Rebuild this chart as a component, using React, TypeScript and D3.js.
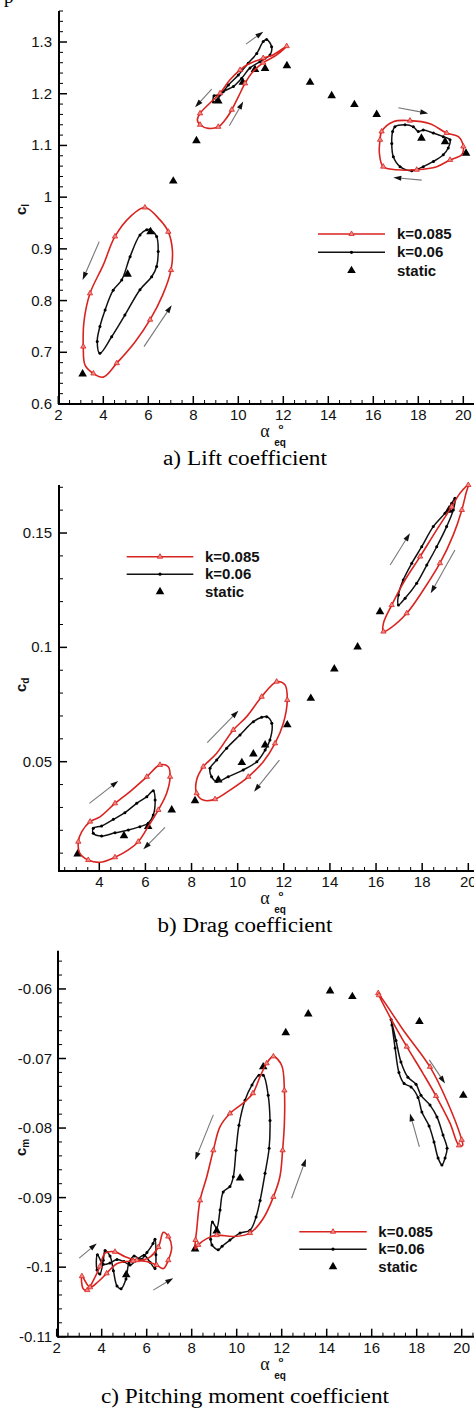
import React from 'react';
import * as d3 from 'd3';

type P = [number, number];
type A = [number, number, number, number];

// ---------------- a) Lift coefficient ----------------
const liftStatic: P[] = [[3.08,0.658],[5.08,0.851],[6.1,0.933],[7.11,1.031],[8.14,1.109],[9.11,1.186],[10.2,1.222],[10.74,1.247],[11.19,1.249],[12.16,1.254],[13.19,1.222],[14.15,1.196],[15.16,1.179],[16.15,1.160],[18.14,1.114],[19.19,1.107],[20.12,1.085]];
const liftK085Low: P[] = [[5.85,0.980],[6.52,0.956],[6.89,0.933],[7.07,0.898],[7.01,0.859],[6.64,0.811],[6.08,0.763],[5.41,0.720],[4.60,0.679],[4.0,0.652],[3.56,0.659],[3.19,0.675],[3.11,0.711],[3.14,0.759],[3.41,0.814],[4.0,0.869],[4.52,0.924],[5.19,0.962]];
const liftK06Low: P[] = [[6.08,0.937],[6.37,0.924],[6.44,0.895],[6.37,0.866],[6.15,0.846],[5.63,0.821],[4.96,0.772],[4.37,0.730],[3.85,0.698],[3.73,0.721],[3.85,0.750],[4.08,0.782],[4.44,0.820],[4.82,0.840],[5.19,0.885],[5.63,0.927],[5.93,0.937]];
const liftK085Mid: P[] = [[12.15,1.292],[11.54,1.275],[11.11,1.269],[10.39,1.256],[10.08,1.246],[9.63,1.227],[9.19,1.201],[8.74,1.182],[8.30,1.162],[8.18,1.149],[8.30,1.140],[8.67,1.133],[9.11,1.136],[9.41,1.149],[9.71,1.169],[10.0,1.194],[10.3,1.220],[10.6,1.240],[11.11,1.260],[11.71,1.275]];
const liftK06Mid: P[] = [[11.26,1.305],[11.48,1.291],[11.41,1.275],[10.96,1.262],[10.52,1.250],[10.15,1.230],[9.78,1.214],[9.33,1.204],[9.04,1.188],[8.89,1.184],[8.92,1.196],[9.19,1.198],[9.56,1.217],[10.0,1.236],[10.44,1.259],[10.82,1.278],[11.11,1.301]];
const liftK085High: P[] = [[16.37,1.127],[16.89,1.146],[17.63,1.148],[18.52,1.142],[19.26,1.124],[19.78,1.117],[20.0,1.098],[19.93,1.082],[19.41,1.072],[18.82,1.059],[17.93,1.053],[17.04,1.053],[16.44,1.059],[16.27,1.085],[16.30,1.111]];
const liftK06High: P[] = [[16.96,1.136],[17.41,1.140],[17.78,1.136],[18.0,1.127],[18.22,1.130],[18.67,1.124],[19.11,1.117],[19.41,1.111],[19.33,1.095],[19.11,1.082],[18.67,1.069],[18.22,1.059],[17.71,1.051],[17.19,1.059],[16.89,1.078],[16.82,1.104],[16.86,1.127]];
const liftArrows: A[] = [[3.82,0.914,3.08,0.840],[5.81,0.711,7.04,0.791],[10.34,1.296,11.11,1.320],[8.82,1.209,8.08,1.174],[9.6,1.138,10.22,1.185],[17.11,1.173,18.44,1.162],[18.15,1.033,16.89,1.038]];
const liftYTicks = [0.6,0.7,0.8,0.9,1,1.1,1.2,1.3];
const liftXTicks = [2,4,6,8,10,12,14,16,18,20];

// ---------------- b) Drag coefficient ----------------
const dragStatic: P[] = [[3.06,0.0096],[5.07,0.0176],[6.12,0.0216],[7.14,0.0289],[8.15,0.0329],[9.16,0.042],[10.18,0.0496],[10.68,0.0534],[11.19,0.0573],[12.15,0.0661],[13.17,0.0777],[14.19,0.0905],[15.2,0.1002],[16.17,0.1156],[19.16,0.160]];
const dragK085Low: P[] = [[6.63,0.0486],[6.99,0.0478],[7.07,0.0434],[6.92,0.0362],[6.56,0.0289],[6.12,0.0216],[5.69,0.0150],[5.26,0.0114],[4.68,0.0082],[4.03,0.0060],[3.52,0.0070],[3.16,0.0099],[3.09,0.0150],[3.24,0.0194],[3.60,0.0238],[4.03,0.0259],[4.68,0.0318],[5.41,0.0376],[6.06,0.0434]];
const dragK06Low: P[] = [[6.34,0.0373],[6.42,0.0332],[6.34,0.0267],[6.12,0.0231],[5.76,0.0216],[5.26,0.0201],[4.68,0.0189],[4.10,0.0175],[3.74,0.0187],[3.74,0.0209],[4.10,0.0219],[4.61,0.0248],[5.11,0.0277],[5.62,0.0318],[6.06,0.0347]];
const dragK085Mid: P[] = [[11.69,0.0850],[12.05,0.0836],[12.15,0.0770],[11.98,0.0668],[11.62,0.0580],[11.11,0.0500],[10.46,0.0434],[9.67,0.0376],[9.02,0.0336],[8.51,0.0332],[8.22,0.0362],[8.22,0.0420],[8.51,0.0478],[9.09,0.0537],[9.81,0.0639],[10.39,0.0697],[11.04,0.0784]];
const dragK06Mid: P[] = [[11.26,0.0697],[11.48,0.0668],[11.40,0.0595],[11.19,0.0551],[10.83,0.0500],[10.24,0.0464],[9.59,0.0434],[9.09,0.0413],[8.87,0.0434],[8.80,0.0471],[9.09,0.0507],[9.52,0.0559],[10.10,0.0617],[10.68,0.0675],[11.04,0.0694]];
const dragK085High: P[] = [[20.0,0.1710],[19.90,0.1674],[19.72,0.1601],[19.35,0.1492],[18.77,0.1368],[18.05,0.1251],[17.33,0.1149],[16.61,0.1083],[16.32,0.1069],[16.32,0.1105],[16.68,0.1185],[17.26,0.1295],[17.91,0.1397],[18.63,0.1514],[19.28,0.1615],[19.64,0.1674]];
const dragK06High: P[] = [[19.42,0.1652],[19.35,0.1601],[19.06,0.1528],[18.63,0.1440],[18.20,0.1360],[17.76,0.1280],[17.26,0.1215],[16.97,0.1185],[16.97,0.1229],[17.18,0.1295],[17.55,0.1368],[17.98,0.1440],[18.48,0.1528],[18.99,0.1587],[19.28,0.1630]];
const dragArrows: A[] = [[3.57,0.0318,4.82,0.0416],[6.85,0.0213,5.91,0.0117],[8.68,0.0583,10.03,0.0723],[11.81,0.0507,10.71,0.0369],[16.61,0.1360,17.47,0.1499],[19.42,0.1426,18.37,0.1237]];
const dragYTicks = [0.05,0.1,0.15];
const dragXTicks = [4,6,8,10,12,14,16,18,20];

// ---------------- c) Pitching moment coefficient ----------------
const momentStatic: P[] = [[5.09,-0.1011],[8.15,-0.0974],[9.11,-0.0948],[10.15,-0.0872],[11.18,-0.0712],[12.18,-0.0663],[13.18,-0.0636],[14.15,-0.0603],[15.14,-0.0611],[18.12,-0.0647],[20.07,-0.0753]];
const momentK085Low: P[] = [[3.12,-0.1013],[3.18,-0.1031],[3.36,-0.1033],[3.63,-0.1019],[3.92,-0.0999],[4.15,-0.0980],[4.59,-0.0978],[5.04,-0.0985],[5.56,-0.0990],[6.07,-0.0987],[6.52,-0.0971],[6.74,-0.0950],[6.96,-0.0956],[7.11,-0.0971],[6.96,-0.0990],[6.74,-0.1002],[6.44,-0.0997],[6.0,-0.0992],[5.40,-0.0991],[4.67,-0.0995],[4.22,-0.1009],[3.84,-0.1021],[3.48,-0.1029]];
const momentK06Low: P[] = [[3.81,-0.0982],[3.79,-0.1004],[3.92,-0.1010],[4.07,-0.0990],[4.15,-0.0976],[4.37,-0.0984],[4.52,-0.1005],[4.68,-0.1027],[4.86,-0.1031],[5.08,-0.1017],[5.21,-0.0994],[5.44,-0.0984],[5.75,-0.0989],[6.01,-0.0979],[6.28,-0.0966],[6.37,-0.0960],[6.41,-0.0982],[6.37,-0.1002],[6.15,-0.0993],[5.88,-0.0983],[5.57,-0.0989],[5.26,-0.0997],[4.99,-0.0992],[4.68,-0.0989],[4.37,-0.0994],[4.07,-0.0996]];
const momentK085Mid: P[] = [[11.63,-0.0697],[12.0,-0.0710],[12.12,-0.0746],[12.12,-0.0793],[12.04,-0.0832],[11.92,-0.0870],[11.63,-0.0899],[11.18,-0.0930],[10.59,-0.0951],[9.85,-0.0956],[9.11,-0.0954],[8.67,-0.0959],[8.29,-0.0968],[8.15,-0.0974],[8.17,-0.0961],[8.22,-0.0947],[8.37,-0.0904],[8.67,-0.0870],[8.96,-0.0832],[9.26,-0.0798],[9.70,-0.0779],[10.37,-0.0762],[10.72,-0.0750],[11.04,-0.0726],[11.33,-0.0707]];
const momentK06Mid: P[] = [[11.18,-0.0724],[11.40,-0.0753],[11.48,-0.0789],[11.44,-0.0829],[11.26,-0.0865],[11.04,-0.0904],[10.86,-0.0928],[10.59,-0.0947],[10.15,-0.0951],[9.70,-0.0961],[9.35,-0.0970],[9.18,-0.0975],[8.90,-0.0968],[8.84,-0.0960],[8.92,-0.0935],[9.11,-0.0944],[9.26,-0.0918],[9.40,-0.0892],[9.70,-0.0884],[9.85,-0.0870],[9.97,-0.0832],[10.10,-0.0796],[10.37,-0.0760],[10.68,-0.0738],[10.99,-0.0724]];
const momentK085High: P[] = [[16.29,-0.0606],[17.40,-0.0659],[18.59,-0.0712],[19.33,-0.0760],[20.0,-0.0817],[20.04,-0.0825],[19.88,-0.0825],[19.48,-0.0793],[18.86,-0.0754],[18.29,-0.0722],[17.56,-0.0683],[16.81,-0.0640],[16.32,-0.0609]];
const momentK06High: P[] = [[16.86,-0.0644],[17.08,-0.0674],[17.30,-0.0705],[17.61,-0.0727],[17.97,-0.0737],[18.19,-0.0753],[18.59,-0.0767],[18.90,-0.0784],[19.17,-0.0810],[19.35,-0.0829],[19.26,-0.0843],[19.12,-0.0853],[18.95,-0.0843],[18.77,-0.0820],[18.55,-0.0797],[18.23,-0.0777],[18.06,-0.0756],[17.75,-0.0741],[17.44,-0.0736],[17.21,-0.0720],[17.04,-0.0685],[16.90,-0.0652]];
const momentArrows: A[] = [[18.56,-0.0702,19.26,-0.0736],[18.12,-0.0827,17.70,-0.0779],[8.96,-0.0781,8.15,-0.0846],[12.44,-0.0901,13.08,-0.0844],[3.0,-0.0987,3.78,-0.0966],[6.29,-0.1033,7.18,-0.1016]];
const momentYTicks = [-0.11,-0.1,-0.09,-0.08,-0.07,-0.06];
const momentXTicks = [2,4,6,8,10,12,14,16,18,20];

const legendLabels = ['k=0.085', 'k=0.06', 'static'];

const RED = '#d9231f';
const SANS = 'Liberation Sans, Arial, sans-serif';
const SERIF = 'Liberation Serif, Times New Roman, serif';

type Cfg = {
  xDom: [number, number]; xRng: [number, number];
  yDom: [number, number]; yRng: [number, number];
  yAxisX: number; xTicks: number[]; yTicks: number[]; yMinor: number;
  red: P[][]; black: P[][]; stat: P[]; arrows: A[];
  legend: { x0: number; x1: number; tx: number; y: number; dy: number };
  sub: string; ylab: [number, number]; caption: string; capY: number; capW: number;
};

const panels: Cfg[] = [
  {
    xDom: [2, 20], xRng: [58.3, 463.3], yDom: [0.6, 1.36], yRng: [404, 11], yAxisX: 59,
    xTicks: liftXTicks, yTicks: liftYTicks, yMinor: 0.02,
    red: [liftK085Low, liftK085Mid, liftK085High], black: [liftK06Low, liftK06Mid, liftK06High],
    stat: liftStatic, arrows: liftArrows,
    legend: { x0: 318, x1: 385, tx: 397, y: 234, dy: 18.3 },
    sub: 'l', ylab: [26, 215], caption: 'a) Lift coefficient', capY: 465, capW: 164,
  },
  {
    xDom: [4, 20], xRng: [99.3, 468.3], yDom: [0.0022, 0.171], yRng: [871, 485], yAxisX: 59,
    xTicks: dragXTicks, yTicks: dragYTicks, yMinor: 0.01,
    red: [dragK085Low, dragK085Mid, dragK085High], black: [dragK06Low, dragK06Mid, dragK06High],
    stat: dragStatic, arrows: dragArrows,
    legend: { x0: 126.7, x1: 193.3, tx: 205, y: 556.7, dy: 17.5 },
    sub: 'd', ylab: [26, 692], caption: 'b) Drag coefficient', capY: 932, capW: 175,
  },
  {
    xDom: [2, 20], xRng: [56.7, 461.7], yDom: [-0.11, -0.0545], yRng: [1336.7, 950.7], yAxisX: 58,
    xTicks: momentXTicks, yTicks: momentYTicks, yMinor: 0.002,
    red: [momentK085Low, momentK085Mid, momentK085High], black: [momentK06Low, momentK06Mid, momentK06High],
    stat: momentStatic, arrows: momentArrows,
    legend: { x0: 299.3, x1: 366.7, tx: 378.3, y: 1231.7, dy: 17.5 },
    sub: 'm', ylab: [26, 1156], caption: 'c) Pitching moment coefficient', capY: 1403, capW: 288,
  },
];

const triSmall = d3.symbol().type(d3.symbolTriangle).size(12)()!;
const triBig = d3.symbol().type(d3.symbolTriangle).size(32)()!;

function Panel({ c }: { c: Cfg }) {
  const xs = d3.scaleLinear().domain(c.xDom).range(c.xRng);
  const ys = d3.scaleLinear().domain(c.yDom).range(c.yRng);
  const axisY = c.yRng[0];
  const line = d3.line<P>().x(d => xs(d[0])).y(d => ys(d[1])).curve(d3.curveCatmullRomClosed.alpha(0.5));
  const xStart = xs.invert(c.yAxisX);
  const xEnd = xs.invert(474);
  const xMinor = d3.range(Math.ceil(xStart * 2) / 2, xEnd, 0.5).filter(v => Math.abs(v - Math.round(v / 2) * 2) > 1e-6);
  const yMinor = d3.range(Math.ceil(c.yDom[0] / c.yMinor - 1e-6) * c.yMinor, c.yDom[1], c.yMinor)
    .filter(v => !c.yTicks.some(t => Math.abs(t - v) < c.yMinor / 10));
  const ax = 265;

  return (
    <g>
      {/* axes */}
      <line x1={c.yAxisX} x2={474} y1={axisY} y2={axisY} stroke="#000" strokeWidth={2} />
      <line x1={c.yAxisX} x2={c.yAxisX} y1={axisY + 1} y2={c.yRng[1]} stroke="#000" strokeWidth={2} />
      {c.xTicks.map(t => (
        <g key={'xt' + t}>
          <line x1={xs(t)} x2={xs(t)} y1={axisY} y2={axisY - 8} stroke="#000" strokeWidth={1.5} />
          <text x={xs(t)} y={axisY + 16} fontFamily={SANS} fontSize={15} textAnchor="middle" fill="#111">{t}</text>
        </g>
      ))}
      {xMinor.map(t => (
        <line key={'xm' + t} x1={xs(t)} x2={xs(t)} y1={axisY} y2={axisY - 4} stroke="#000" strokeWidth={1} />
      ))}
      {c.yTicks.map(t => (
        <g key={'yt' + t}>
          <line x1={c.yAxisX} x2={c.yAxisX + 8} y1={ys(t)} y2={ys(t)} stroke="#000" strokeWidth={1.5} />
          <text x={52} y={ys(t) + 5} fontFamily={SANS} fontSize={15} textAnchor="end" fill="#111">{String(+t.toFixed(3))}</text>
        </g>
      ))}
      {yMinor.map(t => (
        <line key={'ym' + t} x1={c.yAxisX} x2={c.yAxisX + 4} y1={ys(t)} y2={ys(t)} stroke="#000" strokeWidth={1} />
      ))}
      {/* axis titles */}
      <text transform={`translate(${c.ylab[0]},${c.ylab[1]}) rotate(-90)`} fontFamily={SANS} fontWeight="bold" fontSize={15} fill="#111">
        c<tspan fontSize={10} dy={3}>{c.sub}</tspan>
      </text>
      <text x={ax} y={axisY + 33} fontFamily={SERIF} fontSize={18} textAnchor="middle" fill="#111">α</text>
      <text x={ax + 15} y={axisY + 42} fontFamily={SANS} fontWeight="bold" fontSize={10} textAnchor="middle" fill="#111">eq</text>
      <text x={ax + 16} y={axisY + 25} fontFamily={SANS} fontWeight="bold" fontSize={8} textAnchor="middle" fill="#111">o</text>
      {/* caption */}
      <text x={245} y={c.capY} fontFamily={SERIF} fontSize={20} textAnchor="middle" textLength={c.capW} lengthAdjust="spacingAndGlyphs" fill="#000">{c.caption}</text>

      {/* static */}
      {c.stat.map((d, i) => (
        <path key={'s' + i} d={triBig} transform={`translate(${xs(d[0])},${ys(d[1])})`} fill="#000" />
      ))}
      {/* black loops */}
      {c.black.map((loop, i) => (
        <g key={'b' + i}>
          <path d={line(loop)!} fill="none" stroke="#111" strokeWidth={1.5} />
          {loop.map((d, j) => (
            <circle key={j} cx={xs(d[0])} cy={ys(d[1])} r={1.5} fill="#000" />
          ))}
        </g>
      ))}
      {/* red loops */}
      {c.red.map((loop, i) => (
        <g key={'r' + i}>
          <path d={line(loop)!} fill="none" stroke={RED} strokeWidth={1.6} />
          {loop.filter((_, j) => j % 2 === 0).map((d, j) => (
            <path key={j} d={triSmall} transform={`translate(${xs(d[0])},${ys(d[1])})`} fill="#ef8a86" stroke={RED} strokeWidth={0.8} />
          ))}
        </g>
      ))}
      {/* arrows */}
      {c.arrows.map((a, i) => {
        const x0 = xs(a[0]), y0 = ys(a[1]), x1 = xs(a[2]), y1 = ys(a[3]);
        const L = Math.hypot(x1 - x0, y1 - y0);
        const ux = (x1 - x0) / L, uy = (y1 - y0) / L;
        const hl = 8, hw = 2.6;
        const bx = x1 - ux * hl, by = y1 - uy * hl;
        return (
          <g key={'a' + i}>
            <line x1={x0} y1={y0} x2={bx} y2={by} stroke="#777" strokeWidth={1.1} />
            <path d={`M${x1},${y1}L${bx - uy * hw},${by + ux * hw}L${bx + uy * hw},${by - ux * hw}Z`} fill="#111" />
          </g>
        );
      })}
      {/* legend */}
      <g>
        <line x1={c.legend.x0} x2={c.legend.x1} y1={c.legend.y} y2={c.legend.y} stroke={RED} strokeWidth={1.6} />
        <path d={triSmall} transform={`translate(${(c.legend.x0 + c.legend.x1) / 2},${c.legend.y})`} fill="#ef8a86" stroke={RED} strokeWidth={0.8} />
        <line x1={c.legend.x0} x2={c.legend.x1} y1={c.legend.y + c.legend.dy} y2={c.legend.y + c.legend.dy} stroke="#111" strokeWidth={1.5} />
        <circle cx={(c.legend.x0 + c.legend.x1) / 2} cy={c.legend.y + c.legend.dy} r={1.6} fill="#000" />
        <path d={triBig} transform={`translate(${(c.legend.x0 + c.legend.x1) / 2},${c.legend.y + 2 * c.legend.dy})`} fill="#000" />
        {legendLabels.map((t, i) => (
          <text key={t} x={c.legend.tx} y={c.legend.y + i * c.legend.dy + 5} fontFamily={SANS} fontWeight="bold" fontSize={15} fill="#111">{t}</text>
        ))}
      </g>
    </g>
  );
}

export default function App() {
  return (
    <svg width={474} height={1409} viewBox="0 0 474 1409" style={{ position: 'absolute', left: 0, top: 0, background: '#fff' }}>
      <rect x={0} y={0} width={474} height={1409} fill="#fff" />
      <text x={4} y={3} fontFamily={SERIF} fontSize={19} fill="#000">p</text>
      {panels.map((c, i) => <Panel key={i} c={c} />)}
    </svg>
  );
}
